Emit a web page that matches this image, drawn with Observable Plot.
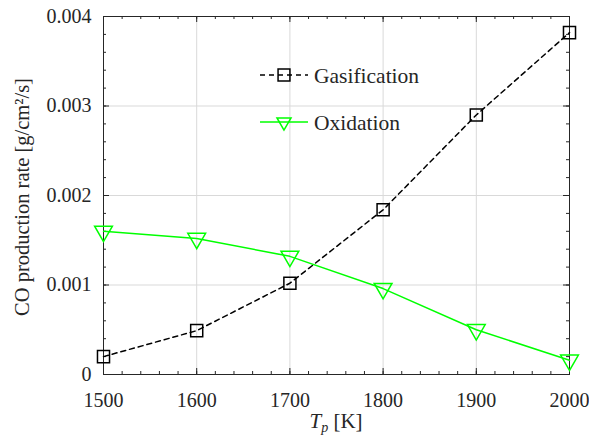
<!DOCTYPE html>
<html><head><meta charset="utf-8">
<script src="https://cdn.jsdelivr.net/npm/d3@7"></script>
<script src="https://cdn.jsdelivr.net/npm/@observablehq/plot@0.6"></script>
<style>
body{margin:0;background:#fff}
svg text{font-family:"Liberation Serif",serif;}
</style>
</head><body><div id="chart"></div>
<script>
const temperatures = [1500, 1600, 1700, 1800, 1900, 2000];
const gasification = [0.0002, 0.00049, 0.00102, 0.00184, 0.0029, 0.00382];
const oxidation = [0.0016, 0.00152, 0.00132, 0.00096, 0.0005, 0.00016];
const seriesNames = ["Gasification", "Oxidation"];
const xTicks = [1500, 1600, 1700, 1800, 1900, 2000];
const xMinorTicks = d3.range(1500, 2001, 20);
const yTicks = [0, 0.001, 0.002, 0.003, 0.004];
const yTickLabels = ["0", "0.001", "0.002", "0.003", "0.004"];
const yMinorTicks = d3.range(0, 21).map(i => i * 0.0002);
const yLabel = "CO production rate [g/cm\u00B2/s]";

const gasData = temperatures.map((t, i) => ({t, v: gasification[i]}));
const oxData = temperatures.map((t, i) => ({t, v: oxidation[i]}));

const frameColor = "#262626";
const font = "Liberation Serif";

const W = 589, H = 438;
const mL = 103, mR = 20, mT = 16, mB = 64;
const pw = W - mL - mR, ph = H - mT - mB;
const major = 6, minor = 3;

const plot = Plot.plot({
  width: W, height: H,
  marginLeft: mL, marginRight: mR, marginTop: mT, marginBottom: mB,
  style: {fontFamily: font, fontSize: "20px", color: frameColor, background: "#fff"},
  x: {domain: [1500, 2000], axis: null},
  y: {domain: [0, 0.004], axis: null},
  marks: [
    Plot.gridX(xTicks, {stroke: "#d9d9d9", strokeOpacity: 1}),
    Plot.gridY(yTicks, {stroke: "#d9d9d9", strokeOpacity: 1}),
    // inward ticks (bottom, top, left, right)
    Plot.ruleX(xTicks, {x: d => d, insetTop: ph - major, stroke: frameColor}),
    Plot.ruleX(xTicks, {x: d => d, insetBottom: ph - major, stroke: frameColor}),
    Plot.ruleX(xMinorTicks, {x: d => d, insetTop: ph - minor, stroke: frameColor}),
    Plot.ruleX(xMinorTicks, {x: d => d, insetBottom: ph - minor, stroke: frameColor}),
    Plot.ruleY(yTicks, {y: d => d, insetRight: pw - major, stroke: frameColor}),
    Plot.ruleY(yTicks, {y: d => d, insetLeft: pw - major, stroke: frameColor}),
    Plot.ruleY(yMinorTicks, {y: d => d, insetRight: pw - minor, stroke: frameColor}),
    Plot.ruleY(yMinorTicks, {y: d => d, insetLeft: pw - minor, stroke: frameColor}),
    // tick labels
    Plot.axisX(xTicks, {anchor: "bottom", tickSize: 0, tickPadding: 18, tickFormat: d => String(d), label: null, fill: frameColor}),
    Plot.axisY(yTicks, {anchor: "left", tickSize: 0, tickPadding: 12, tickFormat: (d, i) => yTickLabels[i], label: null, fill: frameColor}),
    Plot.frame({stroke: frameColor, strokeWidth: 1}),
    Plot.line(gasData, {x: "t", y: "v", stroke: "#000", strokeWidth: 1.5, strokeDasharray: "5,4"}),
    Plot.dot(gasData, {x: "t", y: "v", symbol: "square", r: 6.8, stroke: "#000", strokeWidth: 1.5, fill: "none"}),
    Plot.line(oxData, {x: "t", y: "v", stroke: "#00ff00", strokeWidth: 1.5}),
    Plot.dot(oxData, {x: "t", y: "v", symbol: "triangle", rotate: 180, r: 6.6, stroke: "#00ff00", strokeWidth: 1.5, fill: "none"})
  ]
});
document.getElementById("chart").appendChild(plot);

// Axis titles and legend
const svg = d3.select(plot);
const xl = svg.append("text")
  .attr("x", mL + pw / 2).attr("y", 428)
  .attr("text-anchor", "middle")
  .attr("fill", frameColor)
  .attr("font-size", 21);
xl.append("tspan").attr("font-style", "italic").text("T");
xl.append("tspan").attr("font-style", "italic").attr("font-size", 14).attr("dy", 4).text("p");
xl.append("tspan").attr("dy", -4).text(" [K]");

svg.append("text")
  .attr("transform", `translate(29,${mT + ph / 2 + 2}) rotate(-90)`)
  .attr("text-anchor", "middle")
  .attr("fill", frameColor)
  .attr("font-size", 20.5)
  .text(yLabel);

const legend = svg.append("g");
const rows = [
  {name: seriesNames[0], y: 75, stroke: "#000", dash: "5,4", sym: d3.symbolSquare, rot: 0},
  {name: seriesNames[1], y: 122, stroke: "#00ff00", dash: null, sym: d3.symbolTriangle2, rot: 180}
];
rows.forEach(r => {
  legend.append("line").attr("x1", 260).attr("x2", 308).attr("y1", r.y).attr("y2", r.y)
    .attr("stroke", r.stroke).attr("stroke-width", 1.5).attr("stroke-dasharray", r.dash);
  legend.append("path").attr("d", d3.symbol(r.sym, Math.PI * 6.7 * 6.7)())
    .attr("transform", `translate(284,${r.y}) rotate(${r.rot})`)
    .attr("fill", "none").attr("stroke", r.stroke).attr("stroke-width", 1.5);
  legend.append("text").attr("x", 314).attr("y", r.y).attr("dy", "0.35em")
    .attr("text-anchor", "start")
    .attr("fill", frameColor).attr("font-size", 21.5).text(r.name);
});
</script>
</body></html>
